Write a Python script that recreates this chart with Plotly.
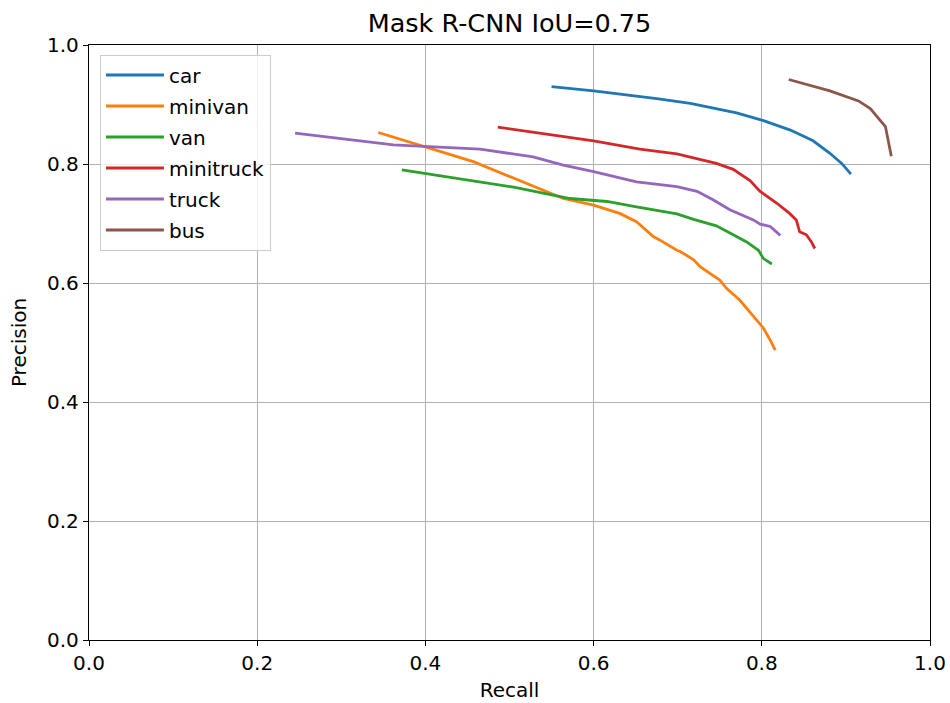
import plotly.graph_objects as go

title_text = "Mask R-CNN IoU=0.75"
series_names = ["car", "minivan", "van", "minitruck", "truck", "bus"]
colors = ["#1f77b4", "#ff7f0e", "#2ca02c", "#d62728", "#9467bd", "#8c564b"]

car_recall = [0.550, 0.600, 0.675, 0.715, 0.770, 0.802, 0.834, 0.861, 0.881, 0.895, 0.906]
car_precision = [0.930, 0.923, 0.910, 0.902, 0.886, 0.873, 0.857, 0.839, 0.818, 0.801, 0.783]

minivan_recall = [0.344, 0.457, 0.564, 0.600, 0.631, 0.651, 0.671, 0.679, 0.699, 0.703, 0.719,
                  0.727, 0.750, 0.758, 0.774, 0.790, 0.802, 0.810, 0.816]
minivan_precision = [0.853, 0.804, 0.742, 0.731, 0.717, 0.703, 0.678, 0.672, 0.655, 0.653, 0.639,
                     0.627, 0.605, 0.591, 0.571, 0.543, 0.524, 0.504, 0.487]

van_recall = [0.372, 0.505, 0.572, 0.616, 0.651, 0.699, 0.719, 0.746, 0.766, 0.782, 0.796, 0.802, 0.812]
van_precision = [0.790, 0.761, 0.742, 0.737, 0.728, 0.716, 0.707, 0.696, 0.681, 0.669, 0.655, 0.641, 0.632]

minitruck_recall = [0.486, 0.600, 0.655, 0.699, 0.746, 0.766, 0.786, 0.798, 0.818, 0.833,
                    0.841, 0.845, 0.853, 0.859, 0.863]
minitruck_precision = [0.862, 0.839, 0.825, 0.817, 0.801, 0.791, 0.772, 0.754, 0.734, 0.717,
                       0.706, 0.686, 0.681, 0.669, 0.658]

truck_recall = [0.245, 0.362, 0.465, 0.528, 0.564, 0.600, 0.651, 0.699, 0.723, 0.742, 0.762,
                0.790, 0.798, 0.810, 0.822]
truck_precision = [0.852, 0.832, 0.825, 0.812, 0.798, 0.787, 0.770, 0.762, 0.754, 0.740, 0.723,
                   0.706, 0.699, 0.695, 0.680]

bus_recall = [0.832, 0.881, 0.915, 0.929, 0.947, 0.954]
bus_precision = [0.942, 0.923, 0.906, 0.893, 0.863, 0.813]

tick_vals = [0.0, 0.2, 0.4, 0.6, 0.8, 1.0]
tick_text = ["0.0", "0.2", "0.4", "0.6", "0.8", "1.0"]

data = [
    (car_recall, car_precision),
    (minivan_recall, minivan_precision),
    (van_recall, van_precision),
    (minitruck_recall, minitruck_precision),
    (truck_recall, truck_precision),
    (bus_recall, bus_precision),
]

fig = go.Figure()
for name, color, (rx, py) in zip(series_names, colors, data):
    fig.add_trace(go.Scatter(x=rx, y=py, mode="lines", name=name, legendgroup=name,
                             line=dict(color=color, width=2.8)))

font_family = "DejaVu Sans"
axis_common = dict(
    range=[0, 1], tickvals=tick_vals, ticktext=tick_text,
    showgrid=True, gridcolor="#b0b0b0", gridwidth=1,
    showline=True, linecolor="black", linewidth=1.3, mirror=True,
    ticks="outside", ticklen=5, tickcolor="black", tickwidth=1.2,
    zeroline=False, automargin=False,
    tickfont=dict(size=20, color="black", family=font_family),
)

fig.update_layout(
    width=950, height=703,
    margin=dict(l=89, r=20, t=45, b=63, autoexpand=False),
    paper_bgcolor="white", plot_bgcolor="white",
    font=dict(family=font_family, color="black", size=20),
    title=dict(text=title_text, x=0.5, xanchor="center", xref="paper",
               y=1 - 23 / 703, yanchor="middle", automargin=False,
               font=dict(size=25.5, family=font_family)),
    xaxis=dict(axis_common, title=dict(text="Recall", font=dict(size=20), standoff=8)),
    yaxis=dict(axis_common, title=dict(text="Precision", font=dict(size=20), standoff=15)),
    legend=dict(x=0.013, y=0.984, xanchor="left", yanchor="top",
                bgcolor="rgba(255,255,255,0.8)", bordercolor="#cccccc", borderwidth=1,
                font=dict(size=20, family=font_family), tracegroupgap=2,
                itemwidth=58),
    showlegend=True,
)

fig.write_html(
    "out.html",
    config={"displayModeBar": False},
    post_script="document.body.style.margin='0';document.body.style.padding='0';",
)
